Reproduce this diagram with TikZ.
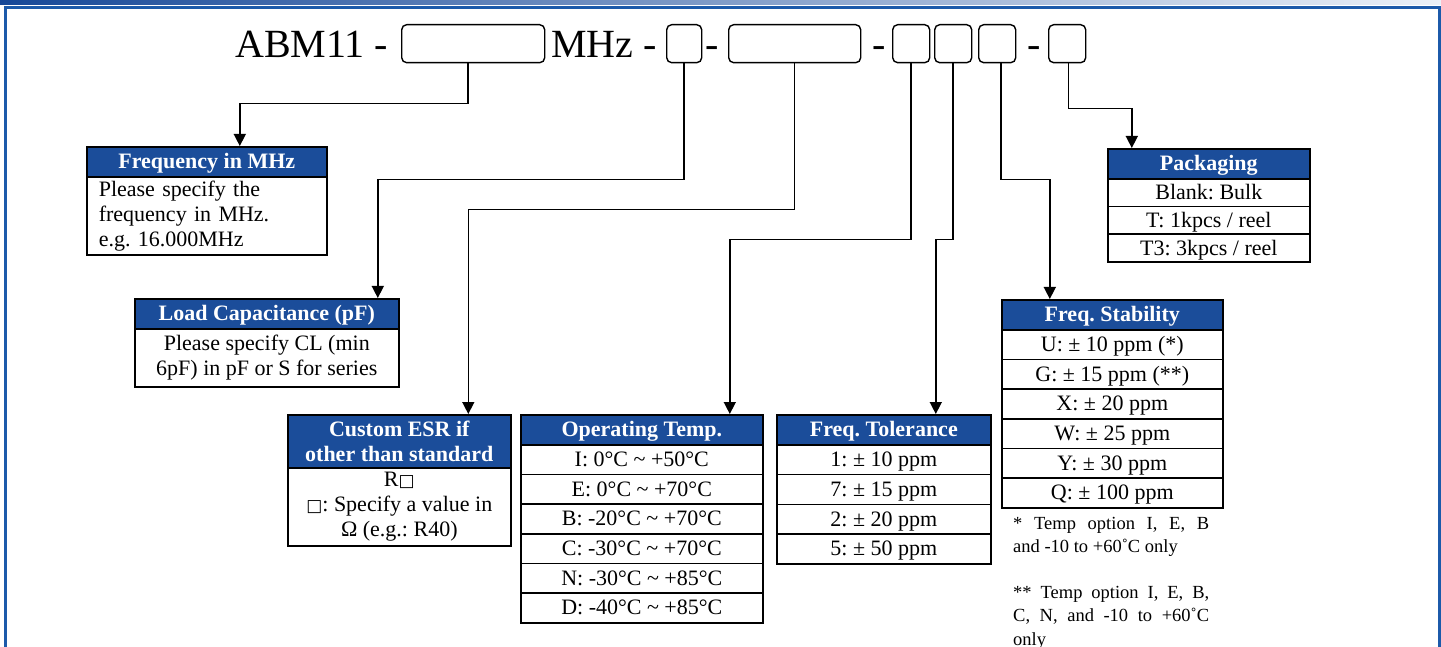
\documentclass[tikz,border=0pt]{standalone}
\usepackage{fontspec}
\setmainfont{Liberation Serif}
\newfontfamily\sqfont{DejaVu Sans}
\usetikzlibrary{arrows.meta}
\definecolor{hblue}{RGB}{27,77,154}
\definecolor{fblue}{RGB}{28,90,170}
\definecolor{barL}{RGB}{22,72,152}
\definecolor{barR}{RGB}{236,241,248}
\newcommand\bodyfont{\fontsize{22}{25}\selectfont}
\newcommand\hdrfont{\fontsize{22}{25}\selectfont\bfseries}
\newcommand\notefont{\fontsize{18.5}{23}\selectfont}
\newcommand\titlefont{\fontsize{40}{40}\selectfont}
\newcommand\sq{\raisebox{0.5pt}{\sqfont\fontsize{17}{17}\selectfont □}}
\frenchspacing
\begin{document}
\begin{tikzpicture}[x=1pt,y=-1pt,
  box/.style={draw=black, line width=1.6pt, inner sep=0pt, anchor=north west},
  hdr/.style={box, fill=hblue, text=white, font=\hdrfont},
  cell/.style={box, fill=white, font=\bodyfont},
  oneline/.style={text height=16pt, text depth=2pt},
  pbox/.style={draw=black, line width=1.4pt, rounded corners=5pt, inner sep=0pt, anchor=north west},
  ttl/.style={font=\titlefont, inner sep=0pt, anchor=base west},
  note/.style={font=\notefont, inner sep=0pt, anchor=base west},
  conn/.style={line width=1.5pt, -{Triangle[width=12pt,length=12pt]}}
]
\useasboundingbox (0,0) rectangle (1441,647);
\shade[left color=barL, right color=barR] (0,0) rectangle (1441,5);
\draw[fblue, line width=3pt] (5.5,647) -- (5.5,7.5) -- (1439.5,7.5) -- (1439.5,647);

% part number line
\node[ttl] (t1) at (235,58) {ABM11 -};
\node[ttl] (t2) at (551,58) {MHz -};
\node[ttl] (t3) at (705,58) {-};
\node[ttl] (t4) at (872,58) {-};
\node[ttl] (t5) at (1027,58) {-};
\node[pbox, minimum width=143pt, minimum height=38pt] (b1) at (401,24) {};
\node[pbox, minimum width=35pt, minimum height=38pt] (b2) at (666,24) {};
\node[pbox, minimum width=132pt, minimum height=38pt] (b3) at (728,24) {};
\node[pbox, minimum width=37pt, minimum height=38pt] (b4) at (892,24) {};
\node[pbox, minimum width=37pt, minimum height=38pt] (b5) at (934,24) {};
\node[pbox, minimum width=37pt, minimum height=38pt] (b6) at (978,24) {};
\node[pbox, minimum width=37pt, minimum height=38pt] (b7) at (1048,24) {};

% Frequency in MHz
\node[hdr, oneline, minimum width=240pt, minimum height=30pt] (fh) at (86,146) {Frequency in MHz};
\node[cell, minimum width=240pt, minimum height=78pt, text width=216pt, align=left] (fhb) at (86,176)
  {Please specify the\\frequency in MHz.\\e.g. 16.000MHz};

% Load capacitance
\node[hdr, oneline, minimum width=264pt, minimum height=30pt] (lc) at (134,298) {Load Capacitance (pF)};
\node[cell, minimum width=264pt, minimum height=58pt, align=center] (lcb) at (134,328)
  {Please specify CL (min\\6pF) in pF or S for series};

% Custom ESR
\node[hdr, minimum width=223pt, minimum height=53pt, align=center] (es) at (287,414)
  {Custom ESR if\\other than standard};
\node[cell, minimum width=223pt, minimum height=78pt, align=center] (esb) at (287,467)
  {R\sq\\\sq: Specify a value in\\Ω (e.g.: R40)};

% Operating temp
\node[hdr, oneline, minimum width=242pt, minimum height=30pt] (ot) at (520,414) {Operating Temp.};
\foreach \t [count=\i] in {I: 0°C \textasciitilde\ +50°C, E: 0°C \textasciitilde\ +70°C,
  B: -20°C \textasciitilde\ +70°C, C: -30°C \textasciitilde\ +70°C,
  N: -30°C \textasciitilde\ +85°C, D: -40°C \textasciitilde\ +85°C}
  \node[cell, oneline, minimum width=242pt, minimum height=29.67pt] (ot\i) at (520,{444+(\i-1)*29.67}) {\t};

% Freq tolerance
\node[hdr, oneline, minimum width=214pt, minimum height=30pt] (ft) at (776,414) {Freq. Tolerance};
\foreach \t [count=\i] in {1: ± 10 ppm, 7: ± 15 ppm, 2: ± 20 ppm, 5: ± 50 ppm}
  \node[cell, oneline, minimum width=214pt, minimum height=29.75pt] (ft\i) at (776,{444+(\i-1)*29.75}) {\t};

% Freq stability
\node[hdr, oneline, minimum width=221pt, minimum height=30pt] (fs) at (1001,299) {Freq. Stability};
\foreach \t [count=\i] in {U: ± 10 ppm (*), G: ± 15 ppm (**), X: ± 20 ppm, W: ± 25 ppm, Y: ± 30 ppm, Q: ± 100 ppm}
  \node[cell, oneline, minimum width=221pt, minimum height=29.67pt] (fs\i) at (1001,{329+(\i-1)*29.67}) {\t};

% Packaging
\node[hdr, oneline, minimum width=202pt, minimum height=30pt] (pk) at (1107,148) {Packaging};
\foreach \t [count=\i] in {Blank: Bulk, T: 1kpcs / reel, T3: 3kpcs / reel}
  \node[cell, oneline, minimum width=202pt, minimum height=27.7pt] (pk\i) at (1107,{178+(\i-1)*27.7}) {\t};

% notes
\node[note] (n1a) at (1013,529) {\makebox[196pt][s]{* Temp option I, E, B}};
\node[note] (n1b) at (1013,552) {and -10 to +60˚C only};
\node[note] (n2a) at (1013,598) {\makebox[196pt][s]{** Temp option I, E, B,}};
\node[note] (n2b) at (1013,621.5) {\makebox[196pt][s]{C, N, and -10 to +60˚C}};
\node[note] (n2c) at (1013,645) {only};

% connectors
\draw[conn] ([xshift=-5pt]b1.south) -- ++(0,40) -| ([xshift=33pt]fh.north);
\draw[conn] (b2.south) -- ++(0,116) -| ([xshift=111pt]lc.north);
\draw[conn] (b3.south) -- ++(0,146) -| ([xshift=69pt]es.north);
\draw[conn] (b4.south) -- ++(0,176) -| ([xshift=88pt]ot.north);
\draw[conn] (b5.south) -- ++(0,176) -| ([xshift=52pt]ft.north);
\draw[conn] ([xshift=4pt]b6.south) -- ++(0,116) -| ([xshift=-62.5pt]fs.north);
\draw[conn] ([xshift=1.5pt]b7.south) -- ++(0,45) -| ([xshift=-77pt]pk.north);
\end{tikzpicture}
\end{document}
